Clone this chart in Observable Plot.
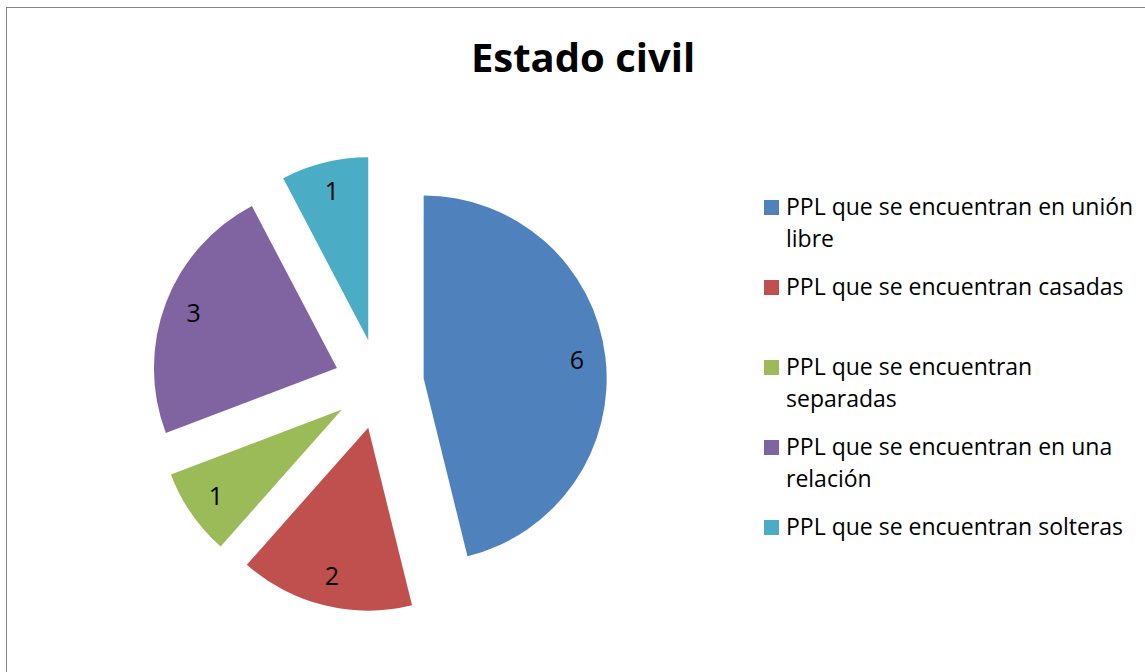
<!DOCTYPE html>
<html>
<head>
<meta charset="utf-8">
<script src="https://cdn.jsdelivr.net/npm/d3@7"></script>
<script src="https://cdn.jsdelivr.net/npm/@observablehq/plot@0.6"></script>
<style>
  html, body { margin: 0; padding: 0; background: #fff; }
  #wrap { position: relative; width: 1145px; height: 672px; overflow: hidden; font-family: "Open Sans", sans-serif; }
  #frame { position: absolute; left: 6px; top: 7px; width: 1200px; height: 700px; border-left: 1.5px solid #868686; border-top: 1.5px solid #868686; box-sizing: border-box; }
  #title { position: absolute; left: 583px; top: 36.5px; transform: translateX(-50%); font-size: 40px; font-weight: bold; line-height: 40px; white-space: nowrap; color: #000; }
  #legend { position: absolute; left: 764px; top: 190px; }
  .item { position: relative; height: 80px; width: 380px; }
  .sw { position: absolute; left: 0; top: 10px; width: 15px; height: 15px; }
  .lab { position: absolute; left: 22px; top: 0; width: 354px; font-size: 23px; line-height: 32px; color: #000; }
  #chart { position: absolute; left: 0; top: 0; }
</style>
</head>
<body>
<div id="wrap">
  <div id="chart"></div>
  <div id="frame"></div>
  <div id="title"></div>
  <div id="legend"></div>
</div>
<script>
const title = "Estado civil";
const categories = [
  "PPL que se encuentran en unión libre",
  "PPL que se encuentran casadas",
  "PPL que se encuentran separadas",
  "PPL que se encuentran en una relación",
  "PPL que se encuentran solteras"
];
const values = [6, 2, 1, 3, 1];
const colors = ["#4F81BD", "#C0504D", "#9BBB59", "#8064A2", "#4BACC6"];

const data = categories.map((c, i) => ({category: c, value: values[i]}));

// layout
const W = 1145, H = 672;
const cx = 379, cy = 384, R = 183, explode = 45, labelFrac = 0.84;

const color = Plot.scale({color: {type: "ordinal", domain: categories, range: colors}});

const arcs = d3.pie().sort(null).value(d => d.value)(data).map(a => {
  const mid = (a.startAngle + a.endAngle) / 2;
  const ox = cx + explode * Math.sin(mid);
  const oy = cy - explode * Math.cos(mid);
  return {
    ...a,
    category: a.data.category,
    value: a.data.value,
    ox, oy,
    lx: ox + labelFrac * R * Math.sin(mid),
    ly: oy - labelFrac * R * Math.cos(mid)
  };
});

const arcGen = d3.arc().innerRadius(0).outerRadius(R);

const slices = (index, scales) => {
  const g = d3.create("svg:g");
  g.selectAll("path")
    .data(arcs)
    .join("path")
    .attr("transform", d => `translate(${scales.x(d.ox)},${scales.y(d.oy)})`)
    .attr("d", d => arcGen({startAngle: d.startAngle, endAngle: d.endAngle}))
    .attr("fill", d => color.apply(d.category));
  return g.node();
};

const chart = Plot.plot({
  width: W,
  height: H,
  margin: 0,
  x: {type: "identity", axis: null},
  y: {type: "identity", axis: null},
  style: {background: "transparent", overflow: "visible"},
  marks: [
    slices,
    Plot.text(arcs, {
      x: "lx", y: "ly", text: d => String(d.value),
      fontSize: 25, fontFamily: "Open Sans", fill: "#000", textAnchor: "middle", lineAnchor: "middle"
    })
  ]
});
document.getElementById("chart").appendChild(chart);

document.getElementById("title").textContent = title;

const legend = document.getElementById("legend");
categories.forEach(c => {
  const it = document.createElement("div");
  it.className = "item";
  const sw = document.createElement("div");
  sw.className = "sw";
  sw.style.background = color.apply(c);
  const lab = document.createElement("div");
  lab.className = "lab";
  lab.textContent = c;
  it.appendChild(sw);
  it.appendChild(lab);
  legend.appendChild(it);
});
</script>
</body>
</html>
